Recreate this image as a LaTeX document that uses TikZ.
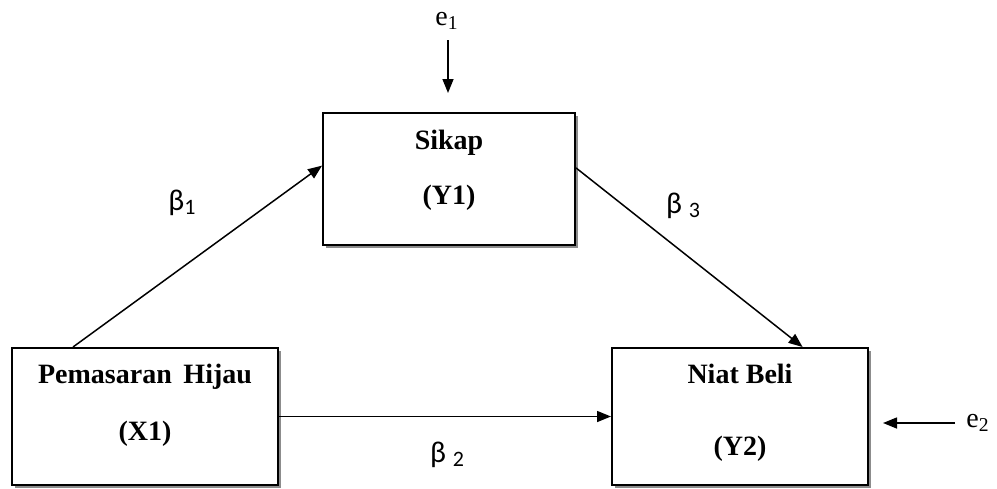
\documentclass[tikz,border=0pt]{standalone}
\usepackage{fontspec}
\setmainfont{Liberation Serif}
\newfontfamily\betafont{Carlito}
\usetikzlibrary{arrows.meta,shadows}

\newcommand{\coefsub}[1]{\raisebox{-2pt}{\fontsize{11}{13}\selectfont #1}}

\tikzset{
  varbox/.style={rectangle, draw=black, line width=1pt, fill=white,
    drop shadow={shadow xshift=1.6pt, shadow yshift=-1.6pt, fill=black!45, opacity=1}},
  vartext/.style={anchor=base, inner sep=0pt, font=\fontsize{14}{16}\selectfont\bfseries},
  coef/.style={anchor=base, inner sep=0pt, font=\fontsize{15}{17}\selectfont\betafont},
  errlbl/.style={anchor=base, inner sep=0pt, font=\fontsize{14}{16}\selectfont},
  path/.style={line width=0.75pt, -{Triangle[length=7pt,width=5.5pt]}}
}

\begin{document}
\begin{tikzpicture}[x=0.5pt,y=-0.5pt]
\useasboundingbox (0,0) rectangle (997,488);

% boxes
\node[varbox, minimum width=126pt, minimum height=66pt] (sikap) at (449,179) {};
\node[varbox, minimum width=133pt, minimum height=68.5pt] (hijau) at (145,416.5) {};
\node[varbox, minimum width=128pt, minimum height=68.5pt] (niat) at (740,416.5) {};

% texts in the boxes
\node[vartext] (sikapA) at (449,149) {Sikap};
\node[vartext] (sikapB) at (449,204) {(Y1)};
\node[vartext] (hijauA) at (145,383) {Pemasaran\, Hijau};
\node[vartext] (hijauB) at (145,440) {(X1)};
\node[vartext] (niatA) at (740,383) {Niat Beli};
\node[vartext] (niatB) at (740,455) {(Y2)};

% paths
\draw[path] (hijau.136) -- (sikap.174);
\draw[path] (sikap.5) -- (niat.48);
\draw[path] (hijau.east) -- (niat.west);

\node[coef] (b1) at (182,210) {β\coefsub{1}};
\node[coef] (b3) at (683,213) {β \coefsub{3}};
\node[coef] (b2) at (447,462) {β \coefsub{2}};

% error terms
\node[errlbl] (e1) at (447,25) {e\textsubscript{1}};
\coordinate (e1s) at (448,40);
\coordinate (e1t) at (448,93);
\draw[path] (e1s) -- (e1t);

\node[errlbl] (e2) at (978,427) {e\textsubscript{2}};
\coordinate (e2s) at (955,423);
\coordinate (e2t) at (883,423);
\draw[path] (e2s) -- (e2t);
\end{tikzpicture}
\end{document}
